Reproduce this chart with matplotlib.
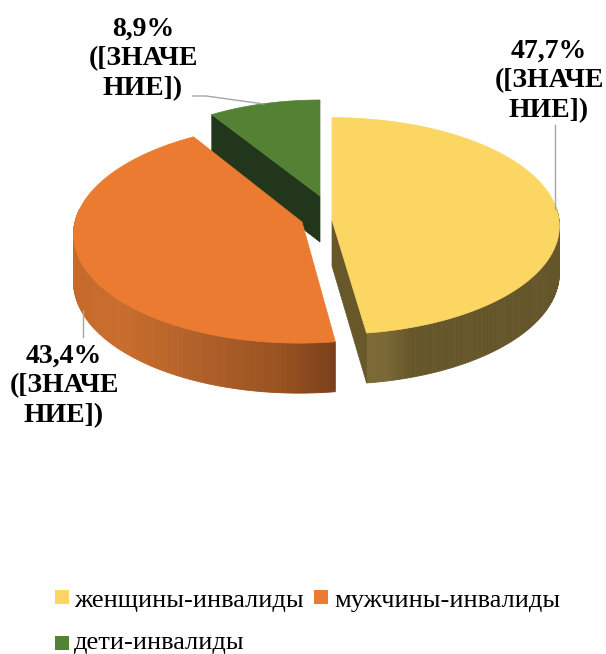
import numpy as np
import matplotlib
matplotlib.use('Agg')
import matplotlib.pyplot as plt
from matplotlib.patches import Polygon, Rectangle

plt.rcParams['font.family'] = ['Liberation Serif', 'DejaVu Serif']

# data
categories = ['женщины-инвалиды', 'мужчины-инвалиды', 'дети-инвалиды']
values = [47.7, 43.4, 8.9]
value_labels = ['47,7%', '43,4%', '8,9%']
placeholder = ['([ЗНАЧЕ', 'НИЕ])']

top_colors = ['#fcd663', '#ea7b31', '#548235']
cut_colors = ['#685829', '#7a3e16', '#21361a']

# look of each slice in pixels: apex x, apex y, radius x, radius y, perspective, shear
shape = [(332, 220, 227, 108, 0.055, 0),
         (302, 222, 227, 109, 0.10, 3),
         (320, 196, 204, 96, 0.0, 0)]

# which cut face can be seen: 0 = none, 1 = start edge, 2 = end edge
visible_cut = [2, 0, 1]

# shading of the outer wall, (x position, colour)
wall_yellow = [(367, '#7c6a36'), (385, '#7a6835'), (410, '#66572b'), (560, '#65562a')]
wall_orange = [(75, '#c46a2b'), (120, '#c96d2c'), (200, '#b0602a'), (280, '#98521f'), (335, '#7a3f1a')]
wall_green = [(212, '#21361a'), (320, '#21361a')]
walls = [wall_yellow, wall_orange, wall_green]

fig = plt.figure(figsize=(6.06, 6.54), dpi=100)
ax = fig.add_axes([0, 0, 1, 1])
ax.set_xlim(0, 606)
ax.set_ylim(654, 0)
ax.axis('off')


# a is angle clockwise from the top in radians
def project(a, s):
    cx, cy, rx, ry, k, sh = s
    u = np.sin(a)
    v = np.cos(a)
    w = 1 + k * v
    return cx + rx * u / w + sh * v, cy - ry * v / w


def depth(a):
    return 47 - 3 * np.cos(a)


def wall_colour(x, stops):
    xs = [p[0] for p in stops]
    rgb = np.array([matplotlib.colors.to_rgb(p[1]) for p in stops])
    return [float(np.interp(x, xs, rgb[:, i])) for i in range(3)]


def draw_slice(start, end, s, top, cut, stops, which_cut, z):
    a = np.linspace(start, end, 240)
    x, y = project(a, s)
    # outer wall, only the part facing us
    for i in range(len(a) - 1):
        if np.cos((a[i] + a[i + 1]) / 2) > 0.12:
            continue
        q = [(x[i], y[i]), (x[i + 1], y[i + 1]),
             (x[i + 1], y[i + 1] + depth(a[i + 1])), (x[i], y[i] + depth(a[i]))]
        c = wall_colour((x[i] + x[i + 1]) / 2, stops)
        ax.add_patch(Polygon(q, closed=True, fc=c, ec=c, lw=0.6, zorder=z))
    cx, cy = s[0], s[1]
    if which_cut:
        b = start if which_cut == 1 else end
        ex, ey = project(b, s)
        ax.add_patch(Polygon([(cx, cy), (ex, ey), (ex, ey + depth(b)), (cx, cy + 46)],
                             closed=True, fc=cut, ec=cut, lw=0.5, zorder=z + 0.2))
    pts = [(cx, cy)] + list(zip(x, y))
    ax.add_patch(Polygon(pts, closed=True, fc=top, ec=top, lw=0.5, zorder=z + 0.5))


# slices start at the top and go clockwise
bounds = np.concatenate([[0], np.cumsum(values)]) / np.sum(values) * 2 * np.pi
draw_order = [2, 0, 1]
for n, i in enumerate(draw_order):
    draw_slice(bounds[i], bounds[i + 1], shape[i], top_colors[i], cut_colors[i],
               walls[i], visible_cut[i], 2 + n)

# leader lines
line_c = '#a6a6a6'
ax.plot([555, 555], [125, 209], color=line_c, lw=1, zorder=10)
ax.plot([83, 83], [337, 310], color=line_c, lw=1, zorder=10)
ax.plot([193, 206, 264], [96, 96, 104], color=line_c, lw=1, zorder=10)

# data labels
label_pos = [(549, 51), (64, 356), (143, 29)]
for (lx, ly), v in zip(label_pos, value_labels):
    for j, t in enumerate([v] + placeholder):
        ax.text(lx, ly + j * 30, t, ha='center', va='center', fontsize=20,
                fontweight='bold', color='black', zorder=11)

# legend
legend_pos = [(55, 590, 74, 607), (314, 590, 334, 607), (55, 636, 74, 649)]
for (sx, sy, tx, ty), name, c in zip(legend_pos, categories, top_colors):
    ax.add_patch(Rectangle((sx, sy), 14, 14, fc=c, ec='none'))
    ax.text(tx, ty, name, ha='left', va='baseline', fontsize=19, color='black')

fig.savefig('out.png', dpi=100)
